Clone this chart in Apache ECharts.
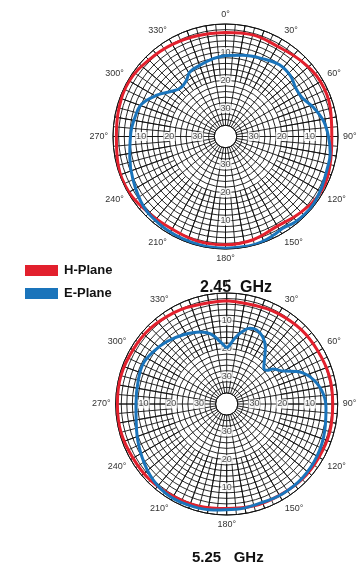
<!DOCTYPE html>
<html><head><meta charset="utf-8">
<script src="https://cdn.jsdelivr.net/npm/echarts@6/dist/echarts.min.js"></script>
<style>html,body{margin:0;padding:0;background:#fff}#c{width:357px;height:565px}</style>
</head><body><div id="c"></div><script>
// Radiation patterns (dB, 0 at outer ring) — angle in degrees, clockwise from top
const hAngles245 = [0, 15, 30, 45, 60, 75, 90, 105, 120, 135, 150, 165, 180, 195, 210, 225, 240, 255, 270, 285, 300, 315, 330, 345, 360];
const hValues245 = [-3.0, -2.6, -3.0, -2.0, -1.0, -1.4, -2.2, -1.5, -0.8, -2.0, -3.2, -2.0, -1.5, -1.5, -2.0, -1.5, -0.4, -0.5, -1.2, -0.8, -0.5, -1.5, -2.2, -2.8, -3.0];

const eAngles245 = [0, 12, 26, 37, 47, 55, 63, 72, 81, 90, 99, 109, 118, 127, 134, 141, 148, 154, 161, 168, 180, 190, 198, 207, 217, 229, 245, 258, 272, 282, 291, 301, 310, 317, 325, 331, 340, 351, 360];
const eValues245 = [-11.2, -10.5, -9.3, -8.1, -8.4, -9.6, -9.5, -7.0, -4.7, -3.4, -2.3, -2.0, -1.3, -0.6, -0.5, -0.8, -1.5, -1.0, -0.4, -0.2, -0.3, -0.3, -0.5, -0.7, -1.0, -1.6, -3.7, -5.2, -6.3, -7.1, -8.0, -11.5, -15.0, -16.5, -15.7, -13.8, -13.1, -12.0, -11.2];

const hAngles525 = [0, 30, 60, 90, 120, 150, 180, 210, 240, 270, 300, 330, 360];
const hValues525 = [-2.8, -2.5, -2.0, -1.8, -1.6, -2.0, -2.3, -1.6, -1.0, -0.6, -1.0, -2.0, -2.8];

const eAngles525 = [0, 3, 7, 12, 17, 22, 28, 34, 39, 46, 50, 53, 60, 65, 72, 82, 92, 105, 120, 134, 148, 161, 175, 187, 198, 211, 224, 238, 254, 270, 285, 296, 306, 316, 328, 340, 347, 354, 360];
const eValues525 = [-19.9, -18.7, -16.1, -13.4, -11.5, -11.2, -12.5, -15.1, -18.2, -21.4, -21.1, -19.1, -16.3, -12.2, -8.4, -5.4, -4.2, -3.4, -2.4, -1.9, -1.9, -2.3, -1.9, -1.5, -1.1, -0.9, -1.9, -4.0, -6.2, -7.3, -7.0, -6.6, -7.6, -8.8, -10.6, -12.4, -14.1, -17.4, -19.9];

// Grid labels
const radiusTicks = [10, 20, 30];
const radiusTickAngles = [0, 90, 180, 270];
const angleLabelStep = 30;
const seriesNames = ['H-Plane', 'E-Plane'];
const titles = ['2.45  GHz', '5.25   GHz'];

const RED = '#e2202d';
const BLUE = '#1a74bb';
const GRID = '#111';

const charts = [
  { center: [225.5, 136.5], R: 112.5, h: [hAngles245, hValues245], e: [eAngles245, eValues245] },
  { center: [226.7, 404], R: 111, e: [eAngles525, eValues525], h: [hAngles525, hValues525] }
];

const polar = [], angleAxis = [], radiusAxis = [], series = [];

charts.forEach((c, i) => {
  const main = polar.length;
  // main grid: rings every 2 dB, spokes every 10°
  polar.push({ center: c.center, radius: [c.R * 0.1, c.R] });
  angleAxis.push({
    polarIndex: main, type: 'value', min: 0, max: 360, interval: 10,
    startAngle: 90, clockwise: true,
    axisLine: { show: true, lineStyle: { color: GRID, width: 1 } },
    axisTick: { show: false },
    splitLine: { show: true, lineStyle: { color: GRID, width: 0.9 } },
    axisLabel: {
      margin: 5, fontSize: 9, color: '#333', fontFamily: 'Liberation Sans',
      formatter: v => (v % angleLabelStep === 0 && v < 360) ? v + '°' : ''
    }
  });
  radiusAxis.push({
    polarIndex: main, type: 'value', min: -36, max: 0, interval: 2,
    axisLine: { show: false }, axisTick: { show: false }, axisLabel: { show: false },
    splitLine: { show: true, lineStyle: { color: GRID, width: 0.9 } }
  });
  // finer 5° spokes in the outer half
  const fine = polar.length;
  polar.push({ center: c.center, radius: [c.R * 0.5, c.R] });
  angleAxis.push({
    polarIndex: fine, type: 'value', min: 0, max: 360, interval: 5,
    startAngle: 90, clockwise: true,
    axisLine: { show: false }, axisTick: { show: false }, axisLabel: { show: false },
    splitLine: { show: true, lineStyle: { color: GRID, width: 0.9 } }
  });
  radiusAxis.push({
    polarIndex: fine, type: 'value', min: -20, max: 0,
    axisLine: { show: false }, axisTick: { show: false }, axisLabel: { show: false },
    splitLine: { show: false }
  });

  // dB labels along the four main axes
  const lbl = [];
  radiusTickAngles.forEach(a => radiusTicks.forEach(t => lbl.push([-t, a, String(t)])));
  series.push({
    type: 'scatter', coordinateSystem: 'polar', polarIndex: main, silent: true,
    symbolSize: 0, z: 3, data: lbl,
    label: {
      show: true, position: 'inside', formatter: p => p.value[2],
      backgroundColor: '#fff', padding: [0, 1], fontSize: 9, color: '#222',
      fontFamily: 'Liberation Sans'
    }
  });

  const mk = (ang, val) => val.map((v, k) => [v, ang[k]]);
  series.push({
    name: seriesNames[0], type: 'line', coordinateSystem: 'polar', polarIndex: main,
    data: mk(c.h[0], c.h[1]), smooth: 0.4, showSymbol: false, z: 4,
    lineStyle: { color: RED, width: 3 }, itemStyle: { color: RED }
  });
  series.push({
    name: seriesNames[1], type: 'line', coordinateSystem: 'polar', polarIndex: main,
    data: mk(c.e[0], c.e[1]), smooth: 0.4, showSymbol: false, z: 5,
    lineStyle: { color: BLUE, width: 3 }, itemStyle: { color: BLUE }
  });
});

const chart = echarts.init(document.getElementById('c'), null, { renderer: 'canvas' });
chart.setOption({
  animation: false,
  backgroundColor: '#fff',
  title: [
    { text: titles[0], left: 195, top: 275, textStyle: { fontSize: 16, fontWeight: 'bold', color: '#111', fontFamily: 'Liberation Sans' } },
    { text: titles[1], left: 187, top: 545, textStyle: { fontSize: 15, fontWeight: 'bold', color: '#111', fontFamily: 'Liberation Sans' } }
  ],
  legend: {
    data: seriesNames.map(n => ({ name: n, icon: 'rect' })),
    orient: 'vertical', left: 20, top: 259, itemWidth: 33, itemHeight: 11, itemGap: 10,
    textStyle: { fontSize: 13, fontWeight: 'bold', color: '#111', fontFamily: 'Liberation Sans', padding: [0, 0, 0, 1] },
    selectedMode: false
  },
  polar, angleAxis, radiusAxis, series
});
</script></body></html>
